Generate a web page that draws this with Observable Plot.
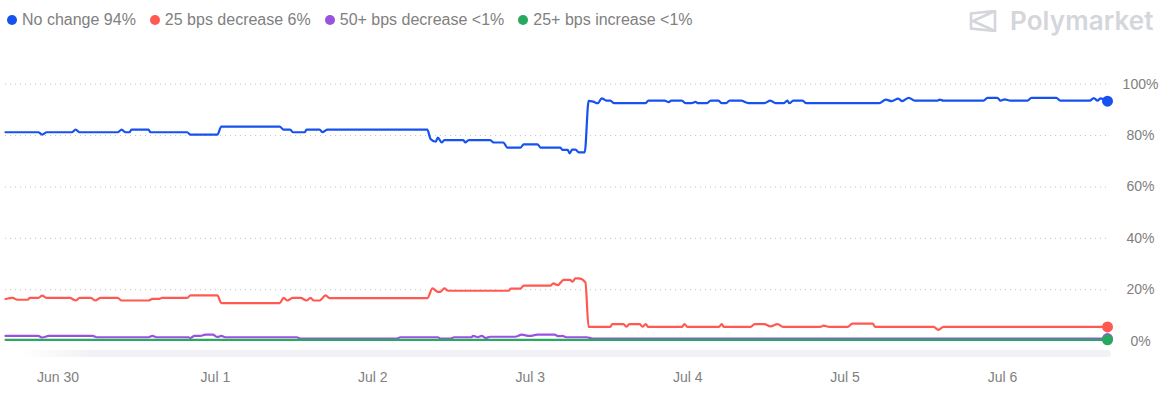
<!DOCTYPE html>
<html><head><meta charset="utf-8">
<script src="https://cdn.jsdelivr.net/npm/d3@7"></script>
<script src="https://cdn.jsdelivr.net/npm/@observablehq/plot@0.6"></script>
<style>
html,body{margin:0;padding:0;background:#fff;}
body{font-family:"Liberation Sans",Arial,sans-serif;}
#wrap{position:relative;width:1161px;height:395px;overflow:hidden;}
#chart{position:absolute;left:0;top:0;}
#legend{position:absolute;left:7px;top:11px;display:flex;align-items:center;font-size:16px;color:#808080;white-space:nowrap;}
.item{display:flex;align-items:center;margin-right:14px;}
.dot{width:10px;height:10px;border-radius:50%;margin-right:5px;}
#logo{position:absolute;left:969px;top:5px;display:flex;align-items:center;color:#d4d6db;}
#logo span{font-family:Inter,"Liberation Sans",sans-serif;font-weight:600;font-size:26px;margin-left:13px;letter-spacing:0.1px;}
#brush{position:absolute;left:20px;top:350px;width:1091px;height:7px;border-radius:4px;background:linear-gradient(to right,rgba(241,242,245,0) 0px,#f1f2f5 70px);}
</style>
</head><body>
<div id="wrap">
  <div id="brush"></div>
  <div id="chart"></div>
  <div id="legend"></div>
  <div id="logo">
    <svg width="28" height="22" viewBox="0 0 28 22"><path d="M2 3.5 L26 1 L26 21 L2 18.5 Z M26 1 L4 11 L26 21" fill="none" stroke="#d4d6db" stroke-width="2.6" stroke-linejoin="miter"/></svg>
    <span>Polymarket</span>
  </div>
</div>
<script>
// Time in hours since Jun 29 16:00 UTC, value in %
const seriesNames = ["No change", "25 bps decrease", "50+ bps decrease", "25+ bps increase"];
const legendLabels = ["94%", "6%", "<1%", "<1%"];
const seriesColors = ["#1652f0", "#ff5952", "#9b51e0", "#27a95f"];
const yTicks = [0, 20, 40, 60, 80, 100];

const noChange = [
[0,81.3],[5.0,81.3],[5.6,80.4],[6.3,81.3],[10.1,81.3],[10.7,82.3],[11.3,81.3],[17.1,81.3],[17.7,82.3],[18.3,81.3],[18.9,81.3],[19.2,82.3],[21.8,82.3],[22.1,81.3],[27.7,81.3],[28.2,80.4],[32.3,80.4],[32.9,83.5],[41.8,83.5],[42.4,82.3],[43.4,82.3],[43.8,81.3],[45.6,81.3],[45.9,82.3],[47.9,82.3],[48.3,81.3],[49.1,82.3],[64.3,82.3],[64.8,78.7],[65.6,77.6],[65.9,79.2],[66.5,77.3],[66.9,78.2],[69.8,78.2],[70.1,77.3],[70.6,78.2],[73.9,78.2],[74.4,77.3],[75.9,77.3],[76.5,75.3],[78.5,75.3],[79.0,76.6],[81.1,76.6],[81.6,75.3],[84.6,75.3],[84.9,74.4],[85.7,74.4],[86.0,73.1],[86.4,74.5],[86.9,74.5],[87.4,73.5],[88.3,73.5],[88.9,93.5],[89.6,93.2],[90.3,92.6],[90.9,94.5],[91.6,93.6],[92.2,93.6],[92.8,92.6],[97.6,92.6],[98.0,93.6],[100.5,93.6],[101.1,93.0],[101.5,93.6],[103.1,93.6],[103.7,92.6],[104.6,92.6],[105.2,93.1],[105.6,92.6],[106.9,92.6],[107.5,93.6],[108.7,93.6],[109.2,92.6],[109.8,92.6],[110.4,93.6],[112.2,93.6],[112.8,93.0],[113.3,92.6],[115.7,92.6],[116.6,93.6],[117.4,92.6],[118.6,92.6],[119.2,93.6],[119.5,92.6],[120.1,93.6],[121.5,93.6],[122.1,92.6],[133.2,92.6],[134.2,94.0],[135.1,93.4],[136.1,94.4],[136.7,93.4],[137.7,94.7],[138.6,93.6],[142.1,93.6],[142.4,94.0],[143.0,93.6],[149.1,93.6],[149.7,94.7],[151.2,94.7],[151.7,93.6],[152.3,94.1],[153.2,93.6],[155.8,93.6],[156.4,94.7],[160.2,94.7],[160.8,93.6],[165.3,93.6],[165.9,94.6],[166.5,93.6],[166.9,94.5],[168.0,93.4]
];
const cut25 = [
[0,16.4],[1.1,16.8],[1.8,16.1],[3.4,16.1],[3.7,16.8],[5.0,16.8],[5.6,17.7],[6.3,16.8],[9.8,16.8],[10.7,15.8],[11.3,16.8],[13.0,16.8],[13.7,15.8],[14.5,16.8],[17.1,16.8],[17.7,15.8],[21.8,15.8],[22.4,16.4],[23.3,16.4],[23.9,16.8],[27.7,16.8],[28.2,17.8],[32.3,17.8],[32.9,14.8],[41.8,14.8],[42.4,16.8],[43.0,15.8],[43.8,16.8],[45.0,16.8],[45.9,15.8],[46.5,16.8],[47.0,15.8],[47.9,15.8],[48.8,17.8],[49.4,16.7],[64.3,16.7],[65.1,20.5],[65.9,19.2],[66.3,19.2],[66.9,20.5],[67.5,19.6],[76.7,19.6],[77.0,20.4],[78.5,20.4],[79.0,21.6],[83.1,21.6],[83.5,22.5],[84.2,21.8],[85.1,23.8],[86.1,23.8],[86.4,23.1],[86.9,24.4],[87.4,24.4],[88.4,22.9],[88.9,5.5],[92.2,5.5],[92.5,6.6],[94.2,6.6],[94.7,5.6],[95.1,6.6],[96.7,6.6],[97.1,5.6],[97.6,6.6],[98.0,5.5],[103.1,5.5],[103.5,6.6],[104.0,5.5],[108.7,5.5],[109.2,6.6],[109.5,5.5],[113.6,5.5],[114.2,6.6],[115.7,6.6],[116.6,5.7],[117.7,6.6],[118.6,5.5],[124.2,5.5],[124.7,6.0],[125.6,5.5],[128.4,5.5],[129.1,6.8],[132.2,6.8],[132.6,5.5],[141.5,5.5],[142.2,4.4],[143.0,5.5],[168.0,5.5]
];
const cut50 = [
[0,2.0],[5.0,2.0],[5.6,1.4],[6.6,2.0],[13.3,2.0],[13.9,1.5],[21.8,1.5],[22.4,2.0],[23.0,1.5],[27.9,1.5],[28.2,1.2],[28.8,2.0],[29.7,2.0],[30.5,2.5],[31.6,2.5],[32.3,1.6],[32.9,2.0],[33.5,1.5],[44.4,1.5],[45.0,1.0],[59.6,1.0],[60.2,1.5],[65.9,1.5],[66.3,1.0],[67.8,1.0],[68.4,1.5],[71.0,1.5],[71.3,2.0],[72.0,1.5],[72.6,2.0],[73.2,1.2],[73.9,1.7],[77.7,1.7],[78.7,2.5],[79.9,2.0],[81.1,2.5],[83.7,2.5],[84.3,1.9],[84.9,2.0],[85.5,1.5],[88.6,1.5],[89.5,1.0],[168.0,1.0]
];
const hike25 = [
[0,0.5],[60,0.5],[120,0.5],[168.0,0.5]
];

const start = Date.UTC(2025, 5, 29, 16);
const toDate = h => new Date(start + h * 3600e3);
const all = [noChange, cut25, cut50, hike25].map((arr, i) =>
  arr.map(([h, v]) => ({date: toDate(h), value: v, series: seriesNames[i]})));
const end = toDate(168);
const dayTicks = d3.utcDays(toDate(0), end);

// Legend
const lg = document.getElementById("legend");
seriesNames.forEach((n, i) => {
  const it = document.createElement("div"); it.className = "item";
  const d = document.createElement("div"); d.className = "dot"; d.style.background = seriesColors[i];
  const t = document.createElement("span"); t.textContent = `${n} ${legendLabels[i]}`;
  it.append(d, t); lg.append(it);
});

const lineMarks = all.map((data, i) => Plot.line(data, {x: "date", y: "value", stroke: seriesColors[i], strokeWidth: 2.2, curve: "monotone-x"}));
const dotMarks = all.map((data, i) => Plot.dot(data.slice(-1), {x: "date", y: "value", fill: seriesColors[i], r: 5.5}));

const chart = Plot.plot({
  width: 1161,
  height: 395,
  marginLeft: 5,
  marginRight: 54,
  marginTop: 83.7,
  marginBottom: 54.4,
  style: {fontFamily: '"Liberation Sans", Arial, sans-serif', fontSize: "14px", color: "#808080", background: "transparent", overflow: "visible"},
  x: {type: "utc", domain: [toDate(0), end]},
  y: {domain: [0, 100]},
  marks: [
    Plot.gridY(yTicks.filter(d => d > 0), {stroke: "#c2c2c2", strokeOpacity: 1, strokeDasharray: "1,4"}),
    Plot.axisX({ticks: dayTicks, tickFormat: d3.utcFormat("%b %-d"), tickSize: 0, tickPadding: 31, fill: "#808080", fontSize: 14, label: null}),
    Plot.axisY({anchor: "right", ticks: yTicks, tickFormat: d => d + "%", tickSize: 0, textAnchor: "middle", dx: 24, fill: "#808080", fontSize: 14, label: null}),
    ...lineMarks,
    ...dotMarks
  ]
});
document.getElementById("chart").append(chart);
</script>
</body></html>
